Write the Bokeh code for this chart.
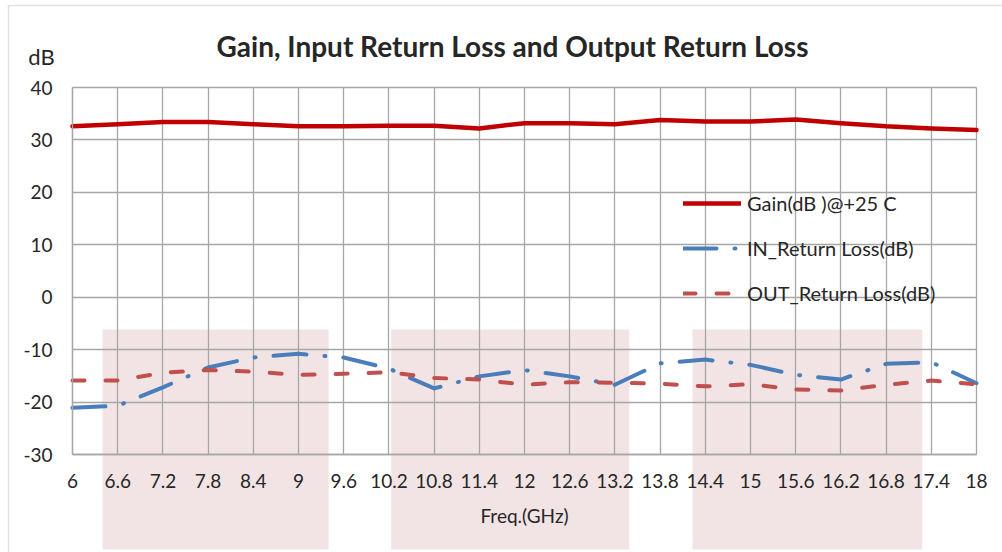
from bokeh.plotting import figure
from bokeh.models import (BoxAnnotation, Label, Legend, LegendItem, FixedTicker,
                          ColumnDataSource, Range1d)
from bokeh.embed import file_html
from bokeh.resources import INLINE

freq = [6.0, 6.6, 7.2, 7.8, 8.4, 9.0, 9.6, 10.2, 10.8, 11.4, 12.0, 12.6, 13.2,
        13.8, 14.4, 15.0, 15.6, 16.2, 16.8, 17.4, 18.0]
gain = [32.6, 33.0, 33.4, 33.4, 33.0, 32.6, 32.6, 32.7, 32.7, 32.2, 33.2, 33.2,
        33.0, 33.8, 33.5, 33.5, 33.9, 33.2, 32.6, 32.2, 31.9]
in_rl = [-21.1, -20.7, -17.2, -13.4, -11.5, -10.8, -11.5, -13.6, -17.4, -15.1,
         -13.9, -15.1, -16.7, -12.6, -11.9, -12.9, -14.8, -15.7, -12.7, -12.4, -16.4]
out_rl = [-15.9, -15.9, -14.4, -13.9, -14.2, -14.8, -14.6, -14.3, -15.4, -15.7,
          -16.7, -16.2, -16.3, -16.5, -17.0, -16.6, -17.6, -17.8, -16.7, -15.9, -16.6]
y_ticks = [-30, -20, -10, 0, 10, 20, 30, 40]
y_tick_labels = ["-30", "-20", "-10", "0", "10", "20", "30", "40"]
x_tick_labels = ["6", "6.6", "7.2", "7.8", "8.4", "9", "9.6", "10.2", "10.8", "11.4",
                 "12", "12.6", "13.2", "13.8", "14.4", "15", "15.6", "16.2", "16.8",
                 "17.4", "18"]
# decorative shaded bands (x extent, in GHz)
bands = [(6.40, 9.40), (10.23, 13.39), (14.23, 17.28)]

FONT = "Lato"
GRID = "#A6A6A6"
TXT = "#262626"

W, H = 1002, 552
# plot area position on the canvas (px)
FL, FR, FT, FB = 72, 976, 87, 454
x0, x1 = freq[0], freq[-1]
y0, y1 = y_ticks[0], y_ticks[-1]
sx = (FR - FL) / (x1 - x0)
sy = (FB - FT) / (y1 - y0)
def dx(px):
    return x0 + (px - FL) / sx
def dy(py):
    return y1 - (py - FT) / sy

src = ColumnDataSource(dict(f=freq, g=gain, i=in_rl, o=out_rl))

p = figure(width=W, height=H, output_backend="svg", toolbar_location=None,
           x_range=Range1d(dx(0), dx(W)), y_range=Range1d(dy(H), dy(0)),
           min_border=0)
p.outline_line_color = None

p.xgrid.ticker = FixedTicker(ticks=freq)
p.ygrid.ticker = FixedTicker(ticks=y_ticks)
p.xgrid.cross_bounds = (y0, y1)
p.ygrid.cross_bounds = (x0, x1)
for g in (p.xgrid, p.ygrid):
    g.grid_line_color = GRID
    g.grid_line_width = 1.3

p.xaxis.ticker = FixedTicker(ticks=freq)
p.xaxis.major_label_overrides = {f: s for f, s in zip(freq, x_tick_labels)}
p.xaxis.fixed_location = y0
p.xaxis.bounds = (x0, x1)
p.yaxis.ticker = FixedTicker(ticks=y_ticks)
p.yaxis.major_label_overrides = {t: s for t, s in zip(y_ticks, y_tick_labels)}
p.yaxis.fixed_location = x0
p.yaxis.bounds = (y0, y1)
for ax in (p.xaxis[0], p.yaxis[0]):
    ax.axis_line_color = GRID
    ax.axis_line_width = 1.3
    ax.major_tick_line_color = None
    ax.minor_tick_line_color = None
    ax.major_label_text_font = FONT
    ax.major_label_text_font_size = "19px"
    ax.major_label_text_color = TXT
p.xaxis.major_label_standoff = 13
p.yaxis.major_label_standoff = 14
p.xaxis.axis_label = "Freq.(GHz)"
p.xaxis.axis_label_text_font = FONT
p.xaxis.axis_label_text_font_size = "19px"
p.xaxis.axis_label_text_font_style = "normal"
p.xaxis.axis_label_text_color = TXT
p.xaxis.axis_label_standoff = 13

for (b0, b1) in bands:
    p.add_layout(BoxAnnotation(left=b0, right=b1, top=dy(329), bottom=dy(549),
                               fill_color="#F2E4E5", fill_alpha=1.0,
                               line_color=None, level="image"))

# chart border
p.add_layout(BoxAnnotation(left=dx(8), right=dx(W + 20), top=dy(5), bottom=dy(H + 20),
                           fill_alpha=0, line_color="#A0A0A0", line_width=1.5))

r_gain = p.line("f", "g", source=src, line_color="#C00000", line_width=4.5,
                line_cap="round", line_join="round")
r_in = p.line("f", "i", source=src, line_color="#4A7EBB", line_width=4,
              line_dash="33 18 1 18", line_cap="round", line_join="round")
r_out = p.line("f", "o", source=src, line_color="#C0504D", line_width=4,
               line_dash="12 21", line_cap="round", line_join="round")

legend = Legend(items=[LegendItem(label="Gain(dB )@+25 C", renderers=[r_gain]),
                       LegendItem(label="IN_Return Loss(dB)", renderers=[r_in]),
                       LegendItem(label="OUT_Return Loss(dB)", renderers=[r_out])],
                location=(683, 247), orientation="vertical",
                glyph_width=58, glyph_height=24, label_height=24,
                label_standoff=6, spacing=21,
                padding=0, margin=0, border_line_color=None,
                background_fill_alpha=0, label_text_font=FONT,
                label_text_font_size="20px", label_text_color=TXT)
p.add_layout(legend)

p.add_layout(Label(x=dx(512), y=dy(45),
                   text="Gain, Input Return Loss and Output Return Loss",
                   text_font=FONT, text_font_size="28px", text_font_style="bold",
                   text_color=TXT, text_align="center", text_baseline="middle"))
p.add_layout(Label(x=dx(41), y=dy(56), text="dB",
                   text_font=FONT, text_font_size="22px", text_color=TXT,
                   text_align="center", text_baseline="middle"))

open("out.html", "w").write(file_html(p, INLINE))
